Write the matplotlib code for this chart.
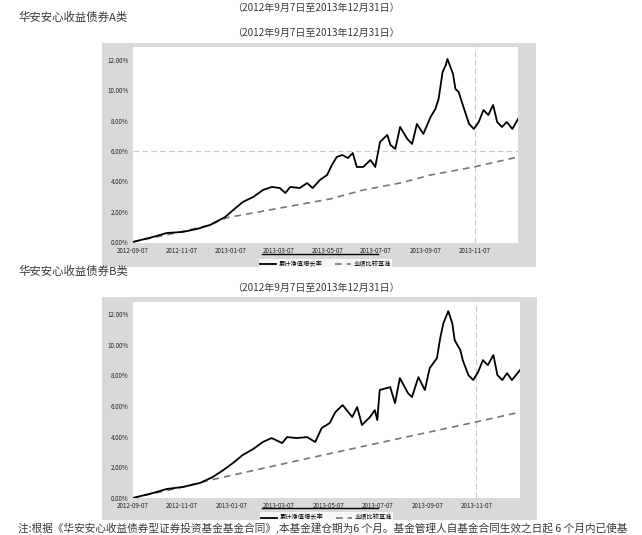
import pandas as pd
import matplotlib.pyplot as plt
import matplotlib.dates as mdates
from matplotlib.lines import Line2D
from matplotlib.patches import Rectangle
from matplotlib.ticker import FuncFormatter

plt.rcParams['font.family'] = ['Noto Sans CJK SC', 'DejaVu Sans']

start = pd.Timestamp('2012-09-07')
end = pd.Timestamp('2013-12-31')

# A class: days since start and cumulative return (%)
a_days = [0, 25, 42, 62, 80, 96, 115, 125, 137, 150, 162, 173, 183, 190, 196, 208, 217, 224,
          233, 242, 248, 254, 261, 268, 274, 279, 287, 296, 302, 308, 317, 321, 327, 333, 342,
          348, 354, 362, 371, 377, 381, 386, 390, 392, 399, 402, 406, 412, 419, 425, 431, 437,
          443, 449, 454, 460, 466, 473, 480]
a_fund = [0.00, 0.33, 0.59, 0.66, 0.86, 1.12, 1.65, 2.11, 2.64, 2.97, 3.43, 3.63, 3.56, 3.23,
          3.63, 3.56, 3.89, 3.56, 4.09, 4.42, 5.08, 5.61, 5.74, 5.54, 5.87, 4.95, 4.95, 5.41,
          4.95, 6.60, 7.06, 6.40, 6.14, 7.59, 6.80, 6.47, 7.79, 7.13, 8.25, 8.78, 9.44, 11.22,
          11.68, 12.08, 11.09, 10.10, 9.90, 8.91, 7.79, 7.46, 7.92, 8.71, 8.38, 9.04, 7.92,
          7.59, 7.92, 7.46, 8.12]
a_bench_days = [0, 62, 96, 117, 246, 287, 333, 371, 425, 480]
a_bench = [0.00, 0.70, 1.12, 1.60, 2.84, 3.43, 3.89, 4.42, 4.95, 5.61]

# B class
b_days = [0, 25, 42, 62, 83, 99, 112, 124, 136, 149, 161, 172, 185, 191, 203, 216, 226, 234,
          244, 251, 260, 272, 278, 284, 294, 300, 303, 306, 319, 325, 331, 341, 346, 354, 362,
          368, 377, 381, 385, 391, 396, 399, 406, 409, 416, 422, 428, 434, 440, 447, 452, 458,
          464, 470, 480]
b_fund = [0.00, 0.33, 0.59, 0.72, 0.98, 1.37, 1.82, 2.28, 2.80, 3.19, 3.65, 3.91, 3.58, 3.97,
          3.91, 3.97, 3.65, 4.56, 4.89, 5.60, 6.06, 5.28, 5.93, 4.76, 5.28, 5.73, 5.08, 7.04,
          7.23, 6.19, 7.82, 6.84, 6.58, 7.88, 7.04, 8.47, 9.12, 10.42, 11.40, 12.18, 11.40,
          10.29, 9.64, 8.99, 8.01, 7.69, 8.21, 8.99, 8.66, 9.32, 8.01, 7.69, 8.14, 7.69, 8.34]
b_bench_days = [0, 62, 96, 208, 333, 425, 480]
b_bench = [0.00, 0.72, 1.17, 2.48, 3.91, 4.95, 5.60]

x_ticks = ['2012-09-07', '2012-11-07', '2013-01-07', '2013-03-07', '2013-05-07',
           '2013-07-07', '2013-09-07', '2013-11-07']
y_ticks = [0, 2, 4, 6, 8, 10, 12]
fund_label = '累计净值增长率'
bench_label = '业绩比较基准'
period = '（2012年9月7日至2013年12月31日）'

fig = plt.figure(figsize=(6.42, 5.35), dpi=100)
fig.patch.set_facecolor('white')


def to_dates(days):
    return start + pd.to_timedelta(days, unit='D')


def draw_chart(rect, frame, days, fund, bdays, bench, ylim, hline, leg_y):
    fig.add_artist(Rectangle((frame[0], frame[1]), frame[2], frame[3], transform=fig.transFigure,
                             facecolor='#d9d9d9', edgecolor='none', zorder=0))
    ax = fig.add_axes(rect)
    ax.set_facecolor('white')
    for s in ax.spines.values():
        s.set_visible(False)
    if hline:
        ax.axhline(6, color='#c8c8c8', lw=0.8, ls=(0, (5, 3)), zorder=1)
    ax.axvline(pd.Timestamp('2013-11-07'), color='#c8c8c8', lw=0.8, ls=(0, (5, 3)), zorder=1)
    ax.plot(to_dates(days), fund, color='black', lw=1.3, label=fund_label, zorder=3)
    ax.plot(to_dates(bdays), bench, color='#777777', lw=1.2, ls=(0, (4, 3)), label=bench_label, zorder=2)
    ax.set_xlim(start, end)
    ax.set_ylim(ylim)
    ax.set_xticks(pd.to_datetime(x_ticks))
    ax.xaxis.set_major_formatter(mdates.DateFormatter('%Y-%m-%d'))
    ax.set_yticks(y_ticks)
    ax.yaxis.set_major_formatter(FuncFormatter(lambda v, p: '%.2f%%' % v))
    ax.tick_params(length=0, labelsize=4.5, colors='#222222', pad=3)
    leg = ax.legend(loc='upper center', bbox_to_anchor=(0.5, leg_y), ncol=2, fontsize=4.5,
                    frameon=True, fancybox=False, borderpad=0.2, handlelength=2.5,
                    columnspacing=2.0, handletextpad=0.5)
    leg.get_frame().set_facecolor('white')
    leg.get_frame().set_edgecolor('none')
    # dark rule across the top of the legend
    y_rule = rect[1] + leg_y * rect[3] + 1.5 / 535
    fig.add_artist(Line2D([262 / 642, 378 / 642], [y_rule, y_rule], transform=fig.transFigure,
                          color='black', lw=1.0, zorder=10))
    return ax


draw_chart([133 / 642, 1 - 243 / 535, 385 / 642, 196 / 535],
           [102 / 642, 1 - 267 / 535, 434 / 642, 224 / 535],
           a_days, a_fund, a_bench_days, a_bench, (-0.07, 12.87), True, -0.065)
draw_chart([133 / 642, 1 - 498 / 535, 387 / 642, 196 / 535],
           [102 / 642, 1 - 520 / 535, 435 / 642, 223 / 535],
           b_days, b_fund, b_bench_days, b_bench, (0, 12.78), False, -0.058)

txt = '#3a3a3a'
fig.text(316 / 642, 1 - 8 / 535, period, ha='center', va='center', fontsize=7.2, color=txt)
fig.text(18 / 642, 1 - 17 / 535, '华安安心收益债券A类', ha='left', va='center', fontsize=8.2, color=txt)
fig.text(316 / 642, 1 - 33 / 535, period, ha='center', va='center', fontsize=7.2, color=txt)
fig.text(18 / 642, 1 - 271 / 535, '华安安心收益债券B类', ha='left', va='center', fontsize=8.2, color=txt)
fig.text(316 / 642, 1 - 288 / 535, period, ha='center', va='center', fontsize=7.2, color=txt)
fig.text(18 / 642, 1 - 528 / 535,
         '注:根据《华安安心收益债券型证券投资基金基金合同》,本基金建仓期为6 个月。基金管理人自基金合同生效之日起 6 个月内已使基',
         ha='left', va='center', fontsize=7.7, color=txt)

plt.savefig('out.png', dpi=100)
